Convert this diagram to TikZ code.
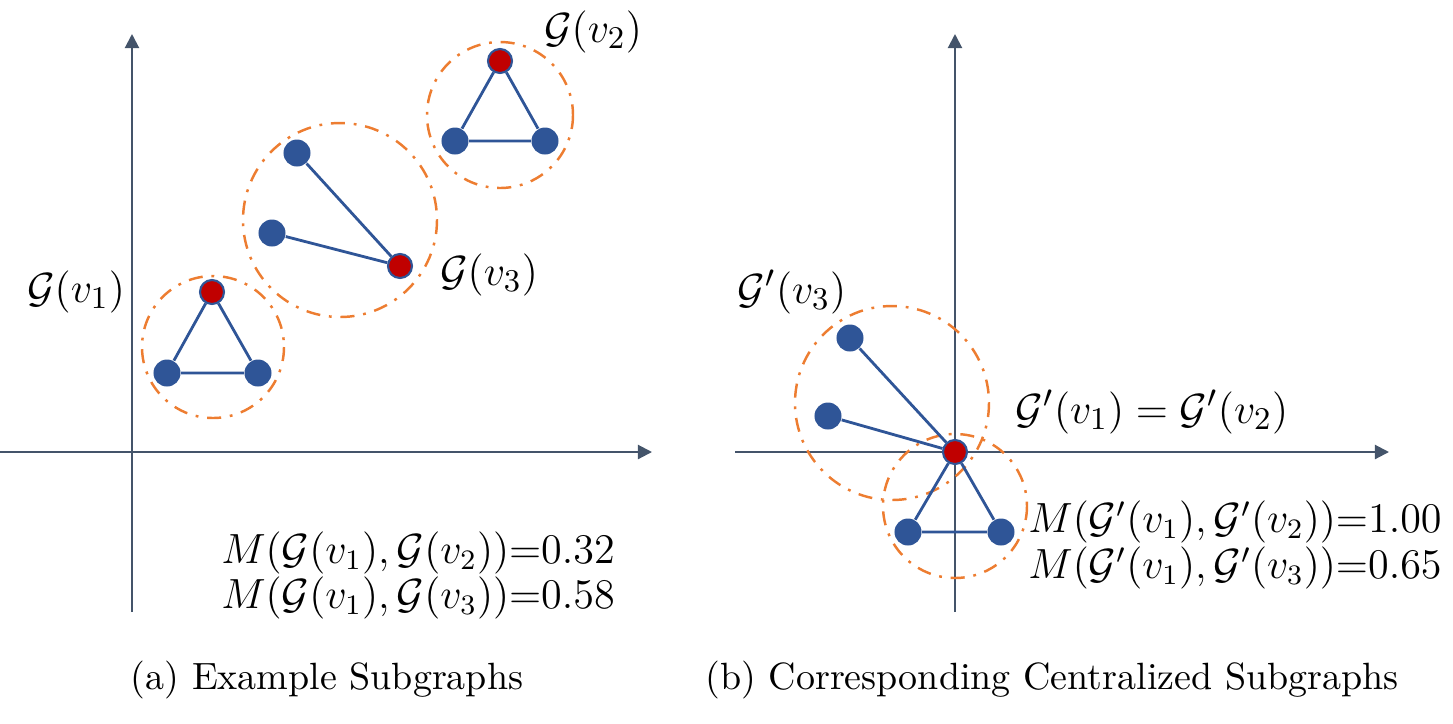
\documentclass[tikz,border=0pt]{standalone}
\usepackage{amsmath}
\usetikzlibrary{arrows.meta}
\definecolor{axisc}{HTML}{44546A}
\definecolor{nblue}{HTML}{2F5597}
\definecolor{nred}{HTML}{C00000}
\definecolor{orng}{HTML}{ED7D31}
\tikzset{
  axisline/.style={draw=axisc, line width=0.6pt, -{Triangle[length=4pt,width=4pt]}},
  bnode/.style={circle, fill=nblue, draw=none, minimum size=0.27cm, inner sep=0pt},
  rnode/.style={circle, fill=nred, draw=nblue, line width=0.6pt, minimum size=0.24cm, inner sep=0pt},
  lnk/.style={draw=nblue, line width=0.8pt},
  ring/.style={draw=orng, line width=0.7pt, dash pattern=on 4pt off 2.5pt on 0.8pt off 2.5pt},
  lbl/.style={font=\fontsize{13}{16}\selectfont, inner sep=0pt},
  mtxt/.style={font=\fontsize{12.1}{15}\selectfont, inner sep=0pt},
  captxt/.style={font=\fontsize{10.8}{13}\selectfont, inner sep=0pt},
}
\begin{document}
\begin{tikzpicture}[x=0.01cm, y=-0.01cm]
\useasboundingbox (0,0) rectangle (1453,723);
% left axes
\coordinate (la0) at (132,612); \coordinate (la1) at (132,34);
\coordinate (lh0) at (0,452); \coordinate (lh1) at (652,452);
\draw[axisline] (la0) -- (la1);
\draw[axisline] (lh0) -- (lh1);
% right axes
\coordinate (ra0) at (955,612); \coordinate (ra1) at (955,34);
\coordinate (rh0) at (735,452); \coordinate (rh1) at (1389,452);
\draw[axisline] (ra0) -- (ra1);
\draw[axisline] (rh0) -- (rh1);
% rings left
\draw[ring] (213,347) circle (71);
\draw[ring] (340,220) circle (97);
\draw[ring] (500,115) circle (73);
% rings right
\draw[ring] (892,403) circle (97);
\draw[ring] (955,506) circle (72);
% left graphs
\node[bnode] (a1) at (167,373) {};
\node[bnode] (a2) at (258,373) {};
\node[rnode] (a0) at (212,292) {};
\draw[lnk] (a0) -- (a1) (a1) -- (a2) (a2) -- (a0);
\node[bnode] (b1) at (297,153) {};
\node[bnode] (b2) at (272,233) {};
\node[rnode] (b0) at (400,266) {};
\draw[lnk] (b0) -- (b1) (b0) -- (b2);
\node[bnode] (c1) at (455,141) {};
\node[bnode] (c2) at (545,141) {};
\node[rnode] (c0) at (500,61) {};
\draw[lnk] (c0) -- (c1) (c1) -- (c2) (c2) -- (c0);
% right graph
\node[bnode] (d1) at (850,338) {};
\node[bnode] (d2) at (828,416) {};
\node[bnode] (d3) at (908,532) {};
\node[bnode] (d4) at (1001,532) {};
\node[rnode] (d0) at (955,452) {};
\draw[lnk] (d0) -- (d1) (d0) -- (d2) (d0) -- (d3) (d3) -- (d4) (d4) -- (d0);
% labels
\node[lbl] (lg2) at (593,32) {$\mathcal{G}(v_2)$};
\node[lbl] (lg3) at (489,275) {$\mathcal{G}(v_3)$};
\node[lbl] (lg1) at (76,292) {$\mathcal{G}(v_1)$};
\node[lbl] (rg3) at (792,292) {$\mathcal{G}'(v_3)$};
\node[lbl] (rg12) at (1152,412) {$\mathcal{G}'(v_1) = \mathcal{G}'(v_2)$};
\node[mtxt] (m1) at (418,553) {$M(\mathcal{G}(v_1),\mathcal{G}(v_2)){=}0.32$};
\node[mtxt] (m2) at (418,598) {$M(\mathcal{G}(v_1),\mathcal{G}(v_3)){=}0.58$};
\node[mtxt] (m3) at (1235,522) {$M(\mathcal{G}'(v_1),\mathcal{G}'(v_2)){=}1.00$};
\node[mtxt] (m4) at (1235,568) {$M(\mathcal{G}'(v_1),\mathcal{G}'(v_3)){=}0.65$};
% captions
\node[captxt] (capa) at (327,680) {(a) Example Subgraphs};
\node[captxt] (capb) at (1052,680) {(b) Corresponding Centralized Subgraphs};
\end{tikzpicture}
\end{document}
